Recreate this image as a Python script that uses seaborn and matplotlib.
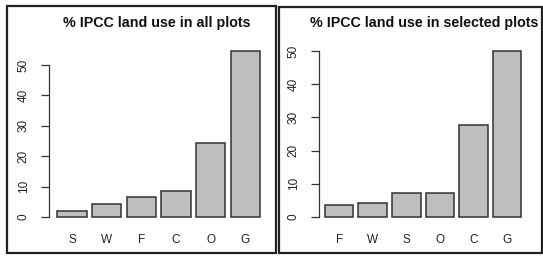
import numpy as np
import pandas as pd
import seaborn as sns
import matplotlib.pyplot as plt
from matplotlib.patches import Rectangle

# % IPCC land use per category
all_cats = ["S", "W", "F", "C", "O", "G"]
all_vals = [1.9, 4.2, 6.7, 8.7, 24.2, 54.6]
sel_cats = ["F", "W", "S", "O", "C", "G"]
sel_vals = [3.6, 4.2, 7.1, 7.1, 27.6, 50.0]

W, H = 543, 257
sns.set_theme(style="white")
plt.rcParams["font.family"] = ["Liberation Sans", "DejaVu Sans"]

fig = plt.figure(figsize=(W / 100, H / 100), dpi=100)


def px_axes(left, top, right, bottom):
    return fig.add_axes([left / W, 1 - bottom / H, (right - left) / W, (bottom - top) / H])


def draw_panel(ax, cats, vals, xlim, ylim, title, title_x):
    df = pd.DataFrame({"cat": cats, "val": vals})
    sns.barplot(data=df, x="cat", y="val", order=cats, color="#bebebe",
                saturation=1, width=0.85, edgecolor="#333333", linewidth=1.1, ax=ax)
    ax.set_xlim(*xlim)
    ax.set_ylim(*ylim)
    ax.set_xlabel("")
    ax.set_ylabel("")
    for s in ["top", "right", "bottom"]:
        ax.spines[s].set_visible(False)
    ax.spines["left"].set_bounds(0, 50)
    ax.spines["left"].set_color("#333333")
    ax.spines["left"].set_linewidth(0.9)
    ax.set_yticks(np.arange(0, 51, 10))
    ax.tick_params(axis="y", left=True, length=6, width=0.9, color="#333333",
                   labelsize=8.5, labelcolor="#222222", pad=8)
    for lab in ax.get_yticklabels():
        lab.set_rotation(90)
        lab.set_va("center")
    ax.tick_params(axis="x", bottom=False, length=0, labelsize=8.5,
                   labelcolor="#222222", pad=6.5)
    ax.patch.set_alpha(0)
    fig.text(title_x / W, 1 - 23 / H, title, ha="center", va="center",
             fontsize=10.3, fontweight="bold", color="#111111")


ax1 = px_axes(49, 40, 270, 225)
draw_panel(ax1, all_cats, all_vals, (-0.66, 5.71), (-2.63, 58.2),
           "% IPCC land use in all plots", 157)

ax2 = px_axes(319, 40, 540, 225)
draw_panel(ax2, sel_cats, sel_vals, (-0.6, 5.98), (-2.41, 53.3),
           "% IPCC land use in selected plots", 424)

# panel frames
for (l, t, r, b) in [(7, 6, 276, 253), (279, 7, 542, 253)]:
    fig.patches.append(Rectangle((l / W, 1 - b / H), (r - l) / W, (b - t) / H,
                                 transform=fig.transFigure, fill=False,
                                 edgecolor="#222222", linewidth=1.6))

fig.savefig("out.png", dpi=100)
